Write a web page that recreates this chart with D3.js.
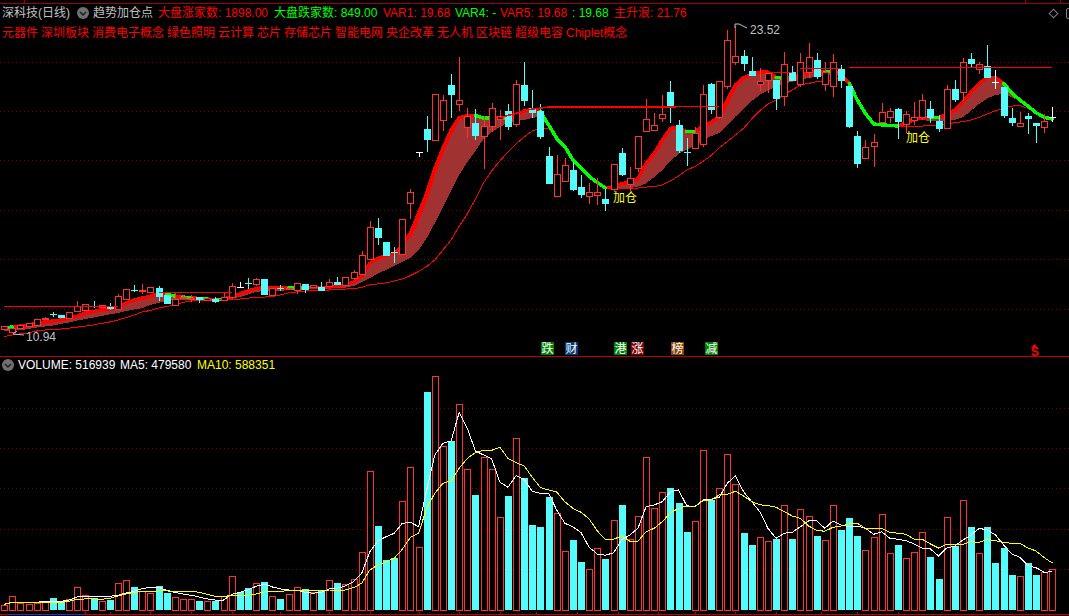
<!DOCTYPE html>
<html><head><meta charset="utf-8">
<style>html,body{margin:0;padding:0;background:#000;overflow:hidden}svg{display:block}text{font-family:"Liberation Sans","Noto Sans CJK SC",sans-serif;font-size:12px}</style>
<script src="https://cdn.jsdelivr.net/npm/d3@7"></script></head><body>
<script>
const opens=[11.11,10.97,11.15,11.21,11.26,11.54,11.71,11.69,11.57,11.82,11.89,12.04,11.98,12.07,11.92,12.33,12.72,12.66,12.63,12.79,12.51,12.12,12.39,12.35,12.41,12.29,12.33,12.33,12.39,12.82,12.99,12.93,13.15,12.49,12.81,12.74,12.68,12.96,12.80,12.83,12.85,13.04,12.92,13.21,13.39,13.98,15.25,14.68,14.25,14.17,16.25,18.38,19.31,18.83,19.69,21.12,20.31,19.39,19.56,19.00,19.41,19.72,20.05,19.50,21.12,20.18,20.05,18.20,16.54,17.15,17.63,16.93,16.54,16.58,16.44,16.84,18.33,17.03,17.68,19.20,19.24,19.73,20.83,19.48,18.37,18.54,18.68,21.14,19.82,21.05,22.03,22.30,21.69,21.13,21.32,21.32,20.64,21.66,21.14,21.64,22.14,21.16,21.05,21.77,21.07,19.02,18.09,18.60,19.57,19.79,20.13,19.50,19.71,19.82,20.13,19.64,19.36,20.95,20.82,22.18,21.76,21.88,21.23,21.02,19.76,19.41,19.84,19.56,19.38,19.82];
const closes=[11.23,11.15,11.26,11.34,11.51,11.58,11.69,11.55,11.80,12.04,12.12,12.02,12.08,11.93,12.46,12.74,12.70,12.70,12.82,12.44,12.15,12.35,12.43,12.39,12.30,12.39,12.23,12.44,12.86,12.82,12.97,13.15,12.51,12.78,12.79,12.78,12.98,12.71,12.90,12.67,13.03,12.92,13.23,13.45,14.15,15.31,14.84,14.10,14.23,15.61,16.72,18.38,18.86,20.73,20.49,20.71,20.49,19.83,19.02,19.42,20.16,19.86,19.39,21.14,20.46,19.98,18.98,17.06,17.45,17.82,16.81,16.61,16.72,16.72,16.24,17.86,17.43,17.29,19.01,19.71,19.46,19.91,20.20,18.41,18.35,19.16,20.73,20.09,21.28,22.95,22.29,21.98,21.48,21.27,21.62,20.54,21.96,21.28,22.05,22.25,21.43,21.66,22.05,21.29,19.39,17.88,18.56,18.77,20.00,20.04,19.60,19.93,19.82,20.50,19.76,19.31,20.94,20.50,22.05,21.98,21.96,21.39,21.23,19.86,19.56,19.54,19.72,19.45,19.63,19.82];
const highs=[11.23,11.15,11.26,11.34,11.51,11.62,11.82,11.69,11.80,12.26,12.12,12.26,12.08,12.19,12.55,12.74,12.92,12.96,12.82,12.87,12.51,12.59,12.51,12.51,12.41,12.39,12.44,12.60,12.98,13.03,13.21,13.21,13.15,12.78,12.92,12.78,12.98,12.96,12.90,13.03,13.16,13.23,13.23,13.53,14.31,15.54,15.65,14.68,14.49,15.61,16.84,18.38,19.84,20.73,20.71,21.57,22.25,20.17,20.12,19.86,20.36,20.09,20.32,21.32,22.05,20.91,20.32,18.56,18.25,18.13,17.97,17.43,17.08,17.29,16.84,17.86,18.53,17.74,19.01,20.53,19.95,20.71,21.28,19.68,18.95,19.38,21.12,21.21,21.28,23.37,23.52,22.55,22.25,21.80,21.62,21.32,22.46,21.91,22.41,22.82,22.41,22.07,22.39,21.94,21.07,19.23,18.86,19.11,20.36,20.17,20.17,20.05,20.43,20.75,20.46,19.89,21.12,21.32,22.21,22.44,22.07,22.76,21.73,21.02,20.16,20.00,19.95,19.56,19.93,20.20];
const lows=[11.07,10.94,11.15,11.21,11.26,11.48,11.59,11.55,11.57,11.82,11.89,11.97,11.98,11.89,11.92,12.33,12.62,12.55,12.63,12.26,12.15,12.12,12.33,12.22,12.19,12.29,12.19,12.33,12.34,12.82,12.75,12.89,12.51,12.49,12.67,12.74,12.55,12.57,12.80,12.67,12.85,12.92,12.92,13.21,13.39,13.98,14.56,14.10,13.80,14.17,15.63,18.18,18.38,18.83,19.24,19.76,20.05,18.95,18.86,17.67,19.20,18.86,19.27,19.41,20.25,19.75,18.89,17.06,16.54,17.15,16.77,16.49,16.24,16.20,15.95,16.74,17.38,16.77,17.56,19.20,19.24,19.61,19.54,18.31,17.79,18.49,18.59,19.93,19.71,20.94,21.94,21.69,21.48,20.88,20.77,20.09,20.25,21.28,21.05,21.39,21.36,20.88,20.64,21.00,19.36,17.72,18.09,17.77,19.57,19.57,18.90,19.15,19.48,19.68,19.57,19.20,19.36,20.43,20.46,21.87,21.57,21.39,20.95,19.77,19.43,19.41,19.11,18.74,19.16,19.61];
const bandUpper=[11.17,11.19,11.23,11.28,11.34,11.40,11.44,11.48,11.56,11.64,11.77,11.83,11.89,11.93,12.01,12.18,12.30,12.38,12.46,12.55,12.53,12.46,12.42,12.40,12.36,12.34,12.30,12.34,12.44,12.55,12.67,12.77,12.81,12.79,12.79,12.79,12.79,12.79,12.81,12.81,12.83,12.87,12.92,13.04,13.28,13.80,14.01,14.12,14.19,14.56,15.05,15.85,16.67,17.70,18.52,19.27,19.77,19.86,19.86,19.75,19.77,19.75,19.75,19.84,20.05,20.12,20.02,19.48,18.93,18.59,18.04,17.70,17.36,17.11,16.90,16.92,17.08,17.11,17.29,17.90,18.31,18.86,19.34,19.38,19.20,19.20,19.43,19.57,19.82,20.50,21.12,21.41,21.55,21.64,21.64,21.43,21.39,21.46,21.53,21.62,21.66,21.64,21.70,21.53,21.18,20.50,19.95,19.52,19.48,19.46,19.43,19.57,19.68,19.79,19.77,19.79,19.89,20.09,20.43,20.82,21.18,21.43,21.43,21.18,20.80,20.50,20.25,19.98,19.79,19.72];
const bandLower=[11.03,11.03,11.07,11.11,11.17,11.21,11.25,11.32,11.38,11.46,11.52,11.58,11.64,11.71,11.77,11.85,11.91,11.97,12.10,12.18,12.26,12.30,12.32,12.32,12.32,12.32,12.30,12.30,12.36,12.42,12.53,12.63,12.67,12.65,12.67,12.71,12.71,12.73,12.75,12.77,12.77,12.79,12.81,12.87,13.04,13.20,13.39,13.53,13.69,13.86,14.02,14.35,14.84,15.46,16.11,16.77,17.43,17.96,18.41,18.90,19.19,19.39,19.58,19.64,19.68,19.76,19.84,19.48,18.93,18.59,18.04,17.70,17.36,17.11,16.90,16.87,16.87,16.89,16.95,17.08,17.34,17.63,18.00,18.29,18.47,18.61,18.86,19.02,19.15,19.45,19.82,20.15,20.46,20.71,20.89,21.05,21.16,21.25,21.34,21.40,21.46,21.50,21.54,21.50,21.18,20.50,19.95,19.52,19.48,19.46,19.43,19.57,19.68,19.68,19.64,19.61,19.65,19.68,19.79,20.06,20.34,20.57,20.71,20.75,20.61,20.46,20.25,19.98,19.79,19.72];
const slowLine=[10.80,10.87,10.91,10.95,11.03,11.07,11.09,11.11,11.15,11.19,11.23,11.28,11.34,11.40,11.48,11.58,11.69,11.81,11.87,11.97,12.03,12.10,12.20,12.26,12.30,12.30,12.32,12.32,12.34,12.34,12.38,12.40,12.42,12.44,12.51,12.59,12.63,12.67,12.69,12.71,12.71,12.73,12.75,12.77,12.81,12.92,12.96,13.00,13.08,13.16,13.30,13.47,13.67,13.94,14.35,14.76,15.33,15.83,16.44,17.10,17.59,18.00,18.37,18.70,18.98,19.23,19.35,19.33,null,null,null,null,null,null,null,16.89,16.89,16.89,16.89,16.93,16.95,17.02,17.18,17.38,17.63,17.77,17.98,18.22,18.54,18.79,19.07,19.34,19.72,20.06,20.34,20.50,20.73,20.91,21.12,21.18,21.25,21.28,21.32,21.43,null,null,null,null,null,null,19.43,19.43,19.43,19.43,19.46,19.48,19.52,19.57,19.61,19.68,19.79,19.93,20.06,20.16,20.25,20.27,20.16,null,null,null];
const greenRuns=[[0,1],[20,21],[22,23],[24,25],[26,27],[35,37],[58,60],[61,62],[66,74],[84,85],[95,96],[101,102],[104,110],[114,115],[123,129]];
const innerRuns=[[50,[14.84,15.58,16.40,17.43,18.33,19.07,19.72]],[88,[19.68,20.30,21.00,21.36]]];
const stepRuns=[[0,[12.03,12.03,12.03,12.03,12.03,12.03,12.03,12.03,12.03,12.03,12.03,12.03,12.03,12.03,12.03]],[19,[12.61,12.61,12.61,12.61,12.61,12.61,12.61,12.61,12.61,12.61]],[61,[19.77,19.87,19.95,20.07,20.13,20.17,20.21,20.21,20.21,20.21,20.21,20.21,20.21,20.21,20.21,20.21,20.21,20.21,20.21,20.21,20.21,20.21,20.23,20.23,20.23,20.23,20.23,20.23]],[94,[21.63,21.63,21.63,21.63]],[98,[21.80,21.80,21.80,21.80,21.80,21.80]],[104,[21.84,21.84,21.84,21.84,21.84,21.84,21.84,21.84,21.84,21.84,21.84,21.84,21.84,21.84,21.84,21.84,21.84,21.84,21.84,21.84,21.84,21.84,21.84,21.84,21.84,21.84]]];
const volumes=[5.9,17.1,8.4,7.1,8.4,9.6,15,9.6,13.4,28.4,18.4,14.6,10.9,12.5,33.4,37.1,28.8,23.4,20.9,30,21.3,15.9,13.4,13.4,11.3,10.9,11.3,17.1,42.1,22.5,27.5,33.4,35,17.1,13.8,19.6,28.4,25.9,22.1,23.4,37.1,33.8,32.1,38.4,72.1,173.4,105,62.5,65,135.9,178.4,78.4,272.5,292.1,204.6,211.3,257.1,175.9,143.8,190.9,175.9,115.9,142.5,214.6,165,106.3,103.8,141.3,120.9,73.4,87.5,60,50.9,77.1,63.8,112.1,131.3,88.4,117.1,190.9,127.1,147.1,152.5,133.8,97.5,110.9,199.6,137.5,152.1,194.6,157.1,96.3,81.3,90.9,85.9,88.8,130.9,88.8,125.9,117.1,92.5,87.1,130.9,100,115,92.5,74.6,90.9,119.6,70.9,81.3,64.6,72.1,97.1,66.3,38.8,115.9,80,137.1,103.8,70.9,103.8,58.8,77.5,43.8,42.1,58.8,43.8,47.1,51.69];
const fallingVolumeDays=[6,7,11,13,16,19,20,24,26,29,30,32,34,37,39,41,46,47,48,52,55,58,62,64,65,66,67,70,71,74,76,82,83,84,87,91,92,95,97,100,103,104,105,110,114,115,117,119,121,122,123,124,126,127];
const ma5=[7.1,9.6,8.8,8.8,9.6,10.9,10.9,10.9,12.5,16.3,17.1,17.1,17.1,17.1,18.4,21.3,23.4,26.6,28.4,28.4,24.6,22.1,20,18.4,16.3,13.8,12.5,12.5,19.6,22.1,25,29.6,32.5,28.8,26.3,25,25,22.1,20.9,22.1,26.3,27.1,30,35.4,45.9,72.9,86.3,91.6,95.9,108.4,109.6,104.1,150,193.8,208.4,211.3,247.1,227.1,198.8,193.8,188.8,160,153.4,167.9,163.4,148.4,145.9,145.9,125,108.4,104.1,96.6,78.4,70,68.4,71.6,87.5,93.8,102.1,129.1,131.3,135.4,147.9,150,130.4,129.1,137.5,138.4,140.9,158.4,167.9,147.9,135.4,122.9,102.1,89.6,95.9,97.1,104.1,111.3,111.3,102.1,111.3,106.3,104.1,105,102.1,94.6,97.9,89.6,88.4,86.6,82.5,77.5,76.3,67.5,77.5,80,87.5,93.8,102.1,100,93.8,81.3,70,65.9,55.4,52.9,47.1,47.96];
const ma10=[7.1,9.6,9.6,9.6,9.6,9.6,9.6,9.6,10.9,13.4,13.8,13.8,13.4,14.6,17.5,20,22.1,23.4,23.4,23.8,23.8,23.4,23.4,23.4,22.1,19.6,17.1,17.1,17.9,18.4,18.4,20,22.5,23.4,23.4,24.1,25,25,25,25,25,24.6,25,27.9,33.4,50,56.3,60.4,64.6,75.9,90.9,95.9,127.1,145.9,158.4,161.3,177.1,189.6,196.6,199.6,199.6,203.4,189.6,184.1,180,165.9,152.9,150,147.5,135.4,127.1,122.1,113.8,98.8,88.4,88.4,92.9,85.9,85.9,97.9,102.1,110.4,121.6,127.1,130,129.1,136.6,137.5,143.8,144.6,148.4,142.5,135.4,131.6,130.4,128.4,122.9,117.5,114.6,105,99.6,98.4,103.4,105,107.5,108.4,102.1,102.1,102.1,97.1,95.9,94.6,88.4,88.4,82.5,77.5,82.1,81.3,82.1,85.4,84.6,88.4,86.6,84.6,83.4,83.4,77.5,73.8,65.4,58.84];
const priceGrid=[22.06,20.05,18.04,15.99,13.98,11.93];
const volumeGrid=[252,202,152,101,51];
const bottomTickDays=[10,13,18,23,28,34,40,45,51,56,61,65.5,70.5,75.5,80.5,85,90,95,100.5,105,110];
const topTickDays=[2.4,125.6,130];

const W=1069,H=616;
const x=d3.scaleLinear().domain([0,129]).range([4.2,1052.3]);
const y=d3.scaleLinear().domain([0,24.6]).range([600,0]);
const yv=d3.scaleLinear().domain([0,300]).range([610,370]);
const RED='#ff3232',CYAN='#54fcfc',PURE='#ff0000',GREEN='#00ff00';
const days=d3.range(opens.length);
const svg=d3.select('body').append('svg').attr('width',W).attr('height',H).style('background','#000');
const grid=svg.append('g');
const gx=svg.append('g').attr('shape-rendering','crispEdges');
const snap=v=>Math.round(v);

// frame lines and dotted grids
grid.selectAll('.pg').data(priceGrid).join('line').attr('x1',0).attr('x2',W).attr('y1',d=>snap(y(d))+.5).attr('y2',d=>snap(y(d))+.5).attr('stroke','#800000').attr('stroke-dasharray','1 3');
grid.selectAll('.vg').data(volumeGrid).join('line').attr('x1',0).attr('x2',W).attr('y1',d=>snap(yv(d))+.5).attr('y2',d=>snap(yv(d))+.5).attr('stroke','#800000').attr('stroke-dasharray','1 3');
[[3,'#a00000'],[356,'#c00000'],[614,'#c00000']].forEach(([yy,c])=>gx.append('line').attr('x1',0).attr('x2',W).attr('y1',yy+.5).attr('y2',yy+.5).attr('stroke',c));
gx.append('line').attr('x1',8).attr('x2',85).attr('y1',614.5).attr('y2',614.5).attr('stroke','#3030c0');
gx.selectAll('.bt').data(bottomTickDays).join('line').attr('x1',d=>snap(x(d))+.5).attr('x2',d=>snap(x(d))+.5).attr('y1',612).attr('y2',615).attr('stroke','#c00000');
gx.selectAll('.tt').data(topTickDays).join('line').attr('x1',d=>snap(x(d))+.5).attr('x2',d=>snap(x(d))+.5).attr('y1',0).attr('y2',4).attr('stroke','#a00000');

// trend band fill
gx.append('path').attr('fill','#a03232').attr('d',d3.area().x(i=>x(i)).y0(i=>y(bandLower[i])).y1(i=>y(bandUpper[i]))(days));

// thick band edge
const isGreen=i=>greenRuns.some(r=>i>=r[0]&&i<r[1]);
const thick=svg.append('g');
thick.selectAll('line').data(days.slice(0,-1)).join('line')
 .attr('x1',i=>x(i)).attr('x2',i=>x(i+1)).attr('y1',i=>y(bandUpper[i])).attr('y2',i=>y(bandUpper[i+1]))
 .attr('stroke',i=>isGreen(i)?GREEN:PURE).attr('stroke-width',3.4).attr('stroke-linecap','round').attr('shape-rendering','crispEdges');
thick.selectAll('line').sort((a,b)=>isGreen(a)-isGreen(b));

// inner and slow lines
const lineP=d3.line().defined(d=>d[1]!=null).x(d=>x(d[0])).y(d=>y(d[1]));
const lg=svg.append('g').attr('shape-rendering','crispEdges').attr('fill','none');
innerRuns.forEach(([s,v])=>lg.append('path').attr('d',lineP(v.map((p,k)=>[s+k,p]))).attr('stroke',PURE));
lg.append('path').attr('d',lineP(slowLine.map((p,k)=>[k,p]))).attr('stroke',PURE);

// candles
const cg=svg.append('g').attr('shape-rendering','crispEdges');
const colorOf=i=>closes[i]>opens[i]?RED:closes[i]<opens[i]?CYAN:'#ffffff';
const bodyX=i=>snap(x(i))-3;
cg.selectAll('.w').data(days).join('line').attr('x1',i=>snap(x(i))+.5).attr('x2',i=>snap(x(i))+.5).attr('y1',i=>y(highs[i])).attr('y2',i=>y(lows[i])).attr('stroke',colorOf);
cg.selectAll('.b').data(days).join('rect')
 .attr('x',i=>closes[i]>opens[i]?bodyX(i)+.5:bodyX(i))
 .attr('y',i=>{const t=y(Math.max(opens[i],closes[i]));return closes[i]>opens[i]?snap(t)+.5:t;})
 .attr('width',i=>closes[i]>opens[i]?6:7)
 .attr('height',i=>Math.max(1,Math.abs(y(opens[i])-y(closes[i]))))
 .attr('fill',i=>closes[i]>opens[i]?'#000':colorOf(i))
 .attr('stroke',i=>closes[i]>opens[i]?RED:'none');

// step line
const sg=svg.append('g').attr('shape-rendering','crispEdges').attr('fill','none').attr('stroke',PURE).attr('stroke-width',1.5);
stepRuns.forEach(([s,v])=>sg.append('path').attr('d',lineP(v.map((p,k)=>[s+k,p]))));

// volume bars
const vg=svg.append('g').attr('shape-rendering','crispEdges');
const falling=new Set(fallingVolumeDays);
vg.selectAll('rect').data(days).join('rect')
 .attr('x',i=>falling.has(i)?bodyX(i):bodyX(i)+.5)
 .attr('y',i=>falling.has(i)?yv(volumes[i]):snap(yv(volumes[i]))+.5)
 .attr('width',i=>falling.has(i)?7:6)
 .attr('height',i=>falling.has(i)?610-yv(volumes[i]):snap(610-yv(volumes[i])))
 .attr('fill',i=>falling.has(i)?CYAN:'#000')
 .attr('stroke',i=>falling.has(i)?'none':RED);
const vLine=d3.line().x((d,i)=>x(i)).y(d=>yv(d));
vg.append('path').attr('d',vLine(ma5)).attr('fill','none').attr('stroke','#ffffff');
vg.append('path').attr('d',vLine(ma10)).attr('fill','none').attr('stroke','#ffff00');

// markers
const grey='#c0c0c0';
svg.append('polyline').attr('points',[[17,331],[13,334],[24,335]].join(' ')).attr('fill','none').attr('stroke',grey);
svg.append('polyline').attr('points',[[735,28],[735,24],[739,24],[747,28]].join(' ')).attr('fill','none').attr('stroke',grey);
svg.append('rect').attr('x',1050.5).attr('y',10.5).attr('width',6).attr('height',6).attr('transform','rotate(45 1053.5 13.5)').attr('fill','none').attr('stroke','#808080');
svg.append('rect').attr('x',1066.5).attr('y',8.5).attr('width',6).attr('height',10).attr('rx',1.5).attr('fill','none').attr('stroke','#808080');
svg.append('path').attr('d','M1034.5 344L1038 348L1031 348Z').attr('fill','#ff0000');
[[83,13],[8,365]].forEach(([cx,cy])=>{
 svg.append('circle').attr('cx',cx).attr('cy',cy).attr('r',6).attr('fill','#707070');
 svg.append('polyline').attr('points',[[cx-3,cy-1],[cx,cy+2],[cx+3,cy-1]].join(' ')).attr('fill','none').attr('stroke','#1a1a1a').attr('stroke-width',1.4);
});

// tags
const tags=[['跌',541,'#008000'],['财',565,'#003a78'],['港',614,'#008000'],['涨',631,'#800000'],['榜',671,'#884400'],['减',705,'#008000']];
svg.selectAll('.tag').data(tags).join('rect').attr('x',d=>d[1]).attr('y',342).attr('width',13).attr('height',13).attr('fill',d=>d[2]).attr('shape-rendering','crispEdges');
svg.selectAll('.tagt').data(tags).join('text').attr('x',d=>d[1]+.5).attr('y',353).attr('fill','#fff').text(d=>d[0]);

// texts
const labels=[
['深科技(日线)',2,17,'#c0c0c0'],['趋势加仓点',93,17,'#c0c0c0'],
['大盘涨家数: 1898.00',158,17,'#ff0000'],['大盘跌家数: 849.00',274,17,'#00ff00'],
['VAR1: 19.68',383,17,'#ff0000'],['VAR4: -',455,17,'#00ff00'],['VAR5: 19.68',500,17,'#ff0000'],[': 19.68',572,17,'#00ff00'],['主升浪: 21.76',614,17,'#ff0000'],
['元器件',2,37,'#ff0000'],['深圳板块',41,37,'#ff0000'],['消费电子概念',92,37,'#ff0000'],['绿色照明',167,37,'#ff0000'],['云计算',218,37,'#ff0000'],['芯片',257,37,'#ff0000'],['存储芯片',284,37,'#ff0000'],['智能电网',335,37,'#ff0000'],['央企改革',386,37,'#ff0000'],['无人机',437,37,'#ff0000'],['区块链',476,37,'#ff0000'],['超级电容',515,37,'#ff0000'],['Chiplet概念',566,37,'#ff0000'],
['10.94',26,341,grey],['23.52',750,34,grey],
['加仓',613,202,'#ffff00'],['加仓',906,142,'#ffff00'],
['VOLUME: 516939',18,369,'#ffffff'],['MA5: 479580',120,369,'#ffffff'],['MA10: 588351',197,369,'#ffff00'],
['S',1031,356,'#ff0000']
];
svg.selectAll('.lb').data(labels).join('text').attr('x',d=>d[1]).attr('y',d=>d[2]).attr('fill',d=>d[3]).attr('font-weight',d=>d[0]==='S'?'bold':null).text(d=>d[0]);
</script></body></html>
